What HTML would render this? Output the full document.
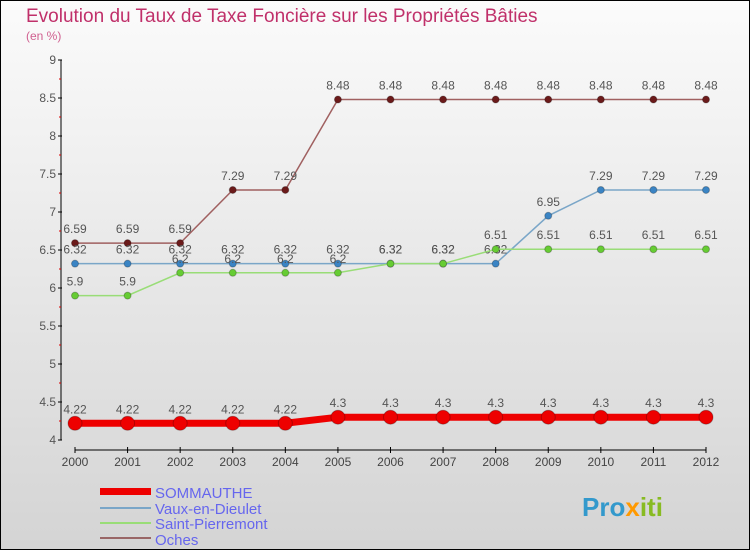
<!DOCTYPE html>
<html><head><meta charset="utf-8"><style>
html,body{margin:0;padding:0}
body{width:750px;height:550px;overflow:hidden;font-family:"Liberation Sans",sans-serif}
</style></head><body>
<svg id="chart" width="750" height="550" xmlns="http://www.w3.org/2000/svg">
<defs><linearGradient id="bg" x1="0" y1="0" x2="0" y2="1"><stop offset="0" stop-color="#fbfbfb"/><stop offset="1" stop-color="#d4d4d4"/></linearGradient></defs>
<rect x="0.5" y="0.5" width="749" height="549" fill="url(#bg)" stroke="#000"/>
<text x="26" y="22" font-size="19" fill="#c0306a">Evolution du Taux de Taxe Foncière sur les Propriétés Bâties</text>
<text x="26" y="40" font-size="12" fill="#d06090">(en %)</text>
<g id="axes"></g><g id="series"></g>
<g font-size="15">
<rect x="100" y="488" width="51" height="7" fill="#e00"/>
<text x="155" y="498" fill="#6666ee">SOMMAUTHE</text>
<line x1="100" y1="508" x2="151" y2="508" stroke="#7aa6c8" stroke-width="2"/>
<text x="155" y="514" fill="#6666ee">Vaux-en-Dieulet</text>
<line x1="100" y1="523" x2="151" y2="523" stroke="#99dd77" stroke-width="2"/>
<text x="155" y="529" fill="#6666ee">Saint-Pierremont</text>
<line x1="100" y1="538" x2="151" y2="538" stroke="#996666" stroke-width="2"/>
<text x="155" y="545" fill="#6666ee">Oches</text>
</g>
<text x="582" y="516" font-size="26" font-weight="bold" fill="#3399cc">Pro<tspan fill="#ff9900">x</tspan><tspan fill="#88bb22">iti</tspan></text>
</svg>
<script>
const years=[2000,2001,2002,2003,2004,2005,2006,2007,2008,2009,2010,2011,2012];
const sommauthe=[4.22,4.22,4.22,4.22,4.22,4.3,4.3,4.3,4.3,4.3,4.3,4.3,4.3];
const vaux=[6.32,6.32,6.32,6.32,6.32,6.32,6.32,6.32,6.32,6.95,7.29,7.29,7.29];
const saint=[5.9,5.9,6.2,6.2,6.2,6.2,6.32,6.32,6.51,6.51,6.51,6.51,6.51];
const oches=[6.59,6.59,6.59,7.29,7.29,8.48,8.48,8.48,8.48,8.48,8.48,8.48,8.48];
const yTicks=[4,4.5,5,5.5,6,6.5,7,7.5,8,8.5,9];
const NS="http://www.w3.org/2000/svg";
const xS=i=>75+i*(706-75)/(years.length-1);
const yS=v=>440-(v-4)*76;
function mk(p,t,a){const e=document.createElementNS(NS,t);for(const k in a)e.setAttribute(k,a[k]);p.appendChild(e);return e;}
const ax=document.getElementById('axes');
let l=mk(ax,'line',{x1:61,y1:yS(9),x2:61,y2:yS(4),stroke:'#000'});


yTicks.forEach(v=>{
 mk(ax,'line',{x1:58,y1:yS(v),x2:62,y2:yS(v),stroke:'#000'});
 if(v<9)mk(ax,'line',{x1:59,y1:yS(v+0.25),x2:61,y2:yS(v+0.25),stroke:'#d00'});
 const t=mk(ax,'text',{x:56,y:yS(v)+4,'font-size':12,'text-anchor':'end',fill:'#555'});t.textContent=String(v);
 
 
});
l=mk(ax,'line',{x1:xS(0),y1:450,x2:xS(years.length-1),y2:450,stroke:'#000'});


years.forEach((y,i)=>{
 mk(ax,'line',{x1:xS(i),y1:447,x2:xS(i),y2:453,stroke:'#000'});
 const t=mk(ax,'text',{x:xS(i),y:466,'font-size':12,'text-anchor':'middle',fill:'#444'});t.textContent=y;
 
 
});
const sg=document.getElementById('series');
function draw(name,vals,line,dot,w,r,lblColor){
 const g=mk(sg,'g',{});
 
 
 mk(g,'polyline',{points:vals.map((v,i)=>xS(i)+','+yS(v)).join(' '),fill:'none',stroke:line,'stroke-width':w});
 vals.forEach((v,i)=>{
  const c=mk(g,'circle',{cx:xS(i),cy:yS(v),r:r,fill:dot,stroke:'rgba(0,0,0,0.25)'});
  
  
  const t=mk(g,'text',{x:xS(i),y:yS(v)-10,'font-size':12,'text-anchor':'middle',fill:lblColor||'#555'});t.textContent=String(v);
  
  
 });
}
draw('oches',oches,'#a06060','#6b1a1a',1.5,3.5);
draw('vaux-en-dieulet',vaux,'#7aa6c8','#3a84c4',1.5,3.5);
draw('saint-pierremont',saint,'#99dd77','#66cc33',1.5,3.5);
draw('sommauthe',sommauthe,'#ee0000','#ee0000',7,7);
</script>
</body></html>
